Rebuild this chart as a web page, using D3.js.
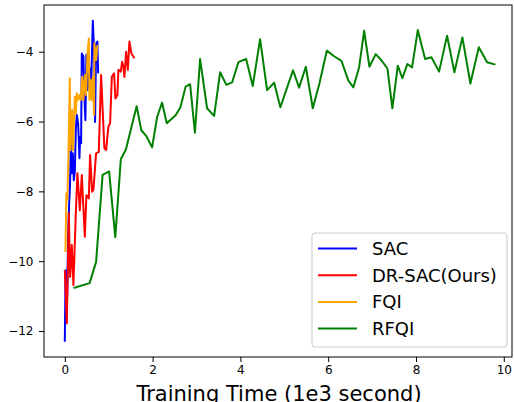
<!DOCTYPE html>
<html>
<head>
<meta charset="utf-8">
<script src="https://cdn.jsdelivr.net/npm/d3@7"></script>
<style>
  body { margin: 0; background: #fff; }
  svg { display: block; font-family: "DejaVu Sans", sans-serif; }
</style>
</head>
<body>
<svg id="chart" width="514" height="402"></svg>
<script>
// ---- data (x in 1e3 s, y = return) ----
const sacX = [0, 0.018, 0.052, 0.075, 0.098, 0.121, 0.137, 0.159, 0.182, 0.205, 0.228, 0.251, 0.273, 0.303, 0.319, 0.333, 0.349, 0.371, 0.387, 0.424, 0.446, 0.469, 0.492, 0.515, 0.547, 0.576, 0.599, 0.638, 0.667, 0.69, 0.713, 0.743, 0.759];
const sacY = [-12.31, -10.26, -11.11, -9.39, -8.39, -7.72, -6.44, -7.48, -6.91, -7.68, -7.44, -6.24, -5.81, -6.05, -6.53, -7.05, -6.44, -6.62, -4.05, -4.14, -5.29, -5.96, -4.09, -5.10, -4.72, -4.48, -5.05, -3.11, -4.00, -6.01, -3.76, -3.71, -4.62];

const drsacX = [0, 0.046, 0.091, 0.121, 0.159, 0.196, 0.251, 0.287, 0.342, 0.387, 0.456, 0.492, 0.547, 0.576, 0.622, 0.651, 0.713, 0.774, 0.827, 0.902, 0.941, 0.993, 1.032, 1.071, 1.123, 1.153, 1.198, 1.221, 1.276, 1.305, 1.335, 1.358, 1.396, 1.435, 1.472, 1.517, 1.585];
const drsacY = [-10.26, -11.78, -8.63, -10.45, -9.54, -10.68, -8.63, -7.48, -8.54, -7.53, -9.30, -8.11, -8.20, -6.96, -8.01, -7.96, -6.91, -6.87, -4.67, -6.77, -6.82, -6.15, -6.05, -4.72, -4.62, -5.34, -5.24, -4.52, -4.57, -4.29, -4.43, -4.72, -4.00, -4.52, -3.71, -4.05, -4.19];

const fqiX = [0.014, 0.036, 0.059, 0.08, 0.114, 0.132, 0.144, 0.166, 0.189, 0.207, 0.228, 0.251, 0.273, 0.303, 0.333, 0.364, 0.394, 0.424, 0.456, 0.485, 0.515, 0.547, 0.56, 0.592, 0.615, 0.638, 0.667, 0.674, 0.713, 0.743];
const fqiY = [-9.74, -8.06, -8.25, -7.10, -4.76, -6.82, -6.34, -5.67, -6.82, -6.10, -5.29, -5.77, -5.19, -5.38, -5.24, -5.38, -4.72, -5.38, -4.67, -5.24, -4.09, -3.62, -5.38, -4.81, -5.38, -4.72, -5.81, -3.76, -4.24, -3.81];

const rfqiX = [0.2, 0.565, 0.713, 0.861, 1.009, 1.15, 1.276, 1.392, 1.636, 1.743, 1.859, 1.989, 2.103, 2.216, 2.323, 2.524, 2.633, 2.752, 2.854, 2.964, 3.082, 3.241, 3.401, 3.538, 3.681, 3.811, 3.954, 4.13, 4.282, 4.449, 4.608, 4.768, 4.911, 5.057, 5.2, 5.337, 5.49, 5.649, 5.8, 5.968, 6.134, 6.301, 6.46, 6.574, 6.704, 6.818, 6.939, 7.084, 7.221, 7.349, 7.462, 7.585, 7.69, 7.804, 7.911, 8.041, 8.207, 8.351, 8.526, 8.708, 8.875, 9.057, 9.239, 9.431, 9.62, 9.809];
const rfqiY = [-10.77, -10.63, -10.02, -7.53, -7.43, -9.31, -7.08, -6.80, -5.56, -6.25, -6.42, -6.74, -5.87, -5.46, -6.05, -5.82, -5.60, -5.00, -4.93, -6.32, -4.21, -5.62, -5.84, -4.59, -4.95, -4.88, -4.30, -4.21, -4.98, -3.64, -5.10, -4.89, -5.59, -5.05, -4.53, -5.03, -4.43, -5.62, -4.91, -3.97, -4.13, -4.26, -4.83, -5.02, -4.45, -3.40, -4.43, -4.07, -4.26, -4.48, -5.62, -4.40, -4.76, -4.35, -4.45, -3.38, -4.21, -4.16, -4.57, -3.54, -4.59, -3.59, -4.91, -3.87, -4.30, -4.37];

const seriesNames = ["SAC", "DR-SAC(Ours)", "FQI", "RFQI"];
const seriesColors = ["blue", "red", "orange", "green"];
const xTicks = [0, 2, 4, 6, 8, 10];
const yTicks = [-12, -10, -8, -6, -4];

const zip = (xs, ys) => xs.map((x, i) => ({ x, y: ys[i] }));
const series = [zip(sacX, sacY), zip(drsacX, drsacY), zip(fqiX, fqiY), zip(rfqiX, rfqiY)];

// ---- chart ----
const svg = d3.select("#chart");
const plot = { left: 44, right: 512, top: 5, bottom: 357 };

const x = d3.scaleLinear().domain([-0.474, 10.187]).range([plot.left, plot.right]);
const y = d3.scaleLinear().domain([-12.745, -2.662]).range([plot.bottom, plot.top]);

const fmt = (v) => (v < 0 ? "\u2212" + Math.abs(v) : String(v));

const line = d3.line().x((d) => x(d.x)).y((d) => y(d.y));

series.forEach((s, i) => {
  svg.append("path")
    .datum(s)
    .attr("fill", "none")
    .attr("stroke", seriesColors[i])
    .attr("stroke-width", 2)
    .attr("stroke-linejoin", "round")
    .attr("d", line);
});

// axes
svg.append("g")
  .attr("transform", `translate(0,${plot.bottom})`)
  .call(d3.axisBottom(x).tickValues(xTicks).tickFormat(fmt).tickSize(5).tickPadding(3).tickSizeOuter(0))
  .call((g) => g.select(".domain").remove())
  .call((g) => g.selectAll("line").attr("stroke", "#000").attr("stroke-width", 1))
  .call((g) => g.selectAll("text").attr("fill", "#000").attr("font-size", 12).attr("font-family", "DejaVu Sans"));

svg.append("g")
  .attr("transform", `translate(${plot.left},0)`)
  .call(d3.axisLeft(y).tickValues(yTicks).tickFormat(fmt).tickSize(5).tickPadding(5.5).tickSizeOuter(0))
  .call((g) => g.select(".domain").remove())
  .call((g) => g.selectAll("line").attr("stroke", "#000").attr("stroke-width", 1))
  .call((g) => g.selectAll("text").attr("fill", "#000").attr("font-size", 12).attr("font-family", "DejaVu Sans"));

// spines
svg.append("rect")
  .attr("x", plot.left)
  .attr("y", plot.top)
  .attr("width", plot.right - plot.left)
  .attr("height", plot.bottom - plot.top)
  .attr("fill", "none")
  .attr("stroke", "#000")
  .attr("stroke-width", 1);

svg.append("text")
  .attr("x", 279)
  .attr("y", 401)
  .attr("text-anchor", "middle")
  .attr("font-size", 21)
  .attr("fill", "#000")
  .text("Training Time (1e3 second)");

// legend
const legend = svg.append("g").attr("transform", "translate(312,233)");
legend.append("rect")
  .attr("width", 195)
  .attr("height", 114)
  .attr("rx", 3)
  .attr("fill", "#fff")
  .attr("fill-opacity", 0.8)
  .attr("stroke", "#ccc")
  .attr("stroke-width", 1);

seriesNames.forEach((name, i) => {
  const cy = 15.5 + i * 26.7;
  legend.append("line")
    .attr("x1", 6).attr("x2", 45)
    .attr("y1", cy).attr("y2", cy)
    .attr("stroke", seriesColors[i])
    .attr("stroke-width", 2);
  legend.append("text")
    .attr("x", 60)
    .attr("y", cy)
    .attr("dy", "0.36em")
    .attr("font-size", 18)
    .attr("fill", "#000")
    .text(name);
});
</script>
</body>
</html>
